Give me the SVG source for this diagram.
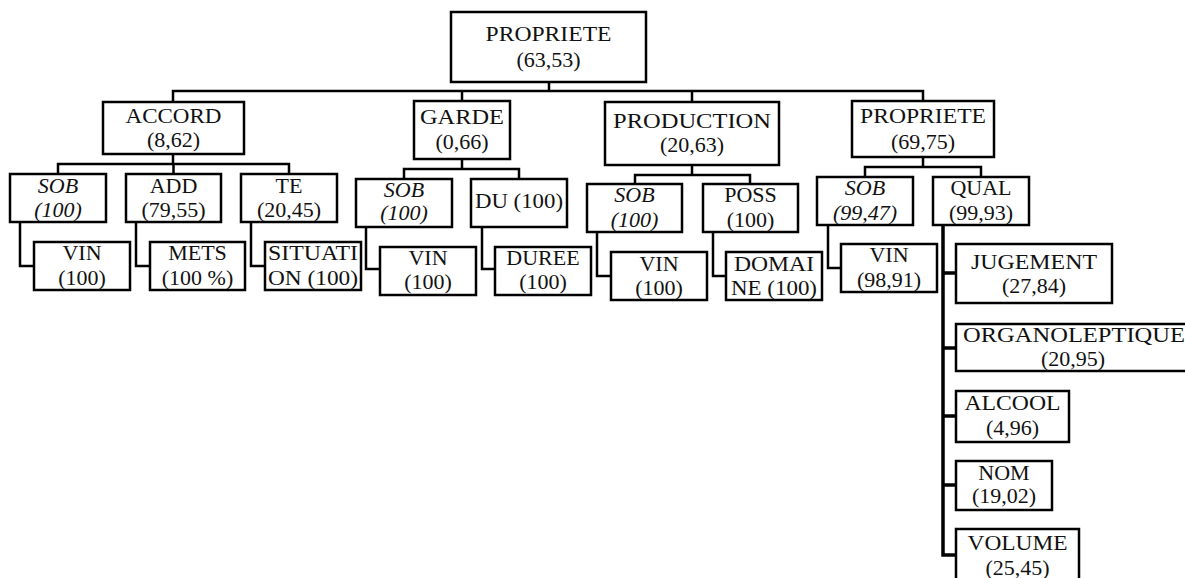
<svg xmlns="http://www.w3.org/2000/svg" width="1185" height="578" viewBox="0 0 1185 578">
<style>
rect{fill:#fff;stroke:#000;stroke-width:2.5}
text{font-family:"Liberation Serif","Times New Roman",serif;font-size:22px;fill:#111;text-anchor:middle}
.i{font-style:italic}
#connectors path{fill:none;stroke:#000;stroke-width:2.5}
#connectors .thick{stroke-width:3.5}
</style>
<rect x="0" y="0" width="1185" height="578" style="fill:#fff;stroke:none"/>
<g id="connectors">
<path d="M549,82V91M173,102V91H923V101M462,91V101M692,91V102"/>
<path d="M173,154V164M58,174V164H289V174M173.5,164V174"/>
<path d="M20,222V266H34M136,222V266H150M251,222V266H265"/>
<path d="M462,159V169M404,179V169H519V179"/>
<path d="M366,227V269H380M482,227V269H495"/>
<path d="M692,165V175M635,184V175H750V184"/>
<path d="M597,232V276H611M713,232V276H726"/>
<path d="M923,157V167M865,177V167H981V177"/>
<path d="M828,225V268H841"/>
<path class="thick" d="M943,225V555H956M943,273H956M943,348H956M943,416H956M943,485H956"/>
</g>
<g id="root"><rect x="451" y="12" width="195" height="70"/><text x="548.5" y="41" textLength="126" lengthAdjust="spacingAndGlyphs">PROPRIETE</text><text x="548.5" y="67">(63,53)</text></g>
<g id="accord"><rect x="103" y="102" width="141" height="52"/><text x="173.5" y="123" textLength="96" lengthAdjust="spacingAndGlyphs">ACCORD</text><text x="173.5" y="147">(8,62)</text></g>
<g id="garde"><rect x="414" y="101" width="96" height="58"/><text x="462" y="124" textLength="84" lengthAdjust="spacingAndGlyphs">GARDE</text><text x="462" y="149">(0,66)</text></g>
<g id="production"><rect x="605" y="102" width="174" height="63"/><text x="692" y="128" textLength="158" lengthAdjust="spacingAndGlyphs">PRODUCTION</text><text x="692" y="152">(20,63)</text></g>
<g id="propriete2"><rect x="852" y="101" width="142" height="56"/><text x="923" y="123" textLength="126" lengthAdjust="spacingAndGlyphs">PROPRIETE</text><text x="923" y="149">(69,75)</text></g>
<g id="acc_sob"><rect x="10" y="174" width="96" height="48"/><text class="i" x="58" y="193">SOB</text><text class="i" x="58" y="217">(100)</text></g>
<g id="add"><rect x="126" y="174" width="95" height="48"/><text x="173.5" y="193">ADD</text><text x="173.5" y="217">(79,55)</text></g>
<g id="te"><rect x="241" y="174" width="96" height="48"/><text x="289" y="193">TE</text><text x="289" y="217">(20,45)</text></g>
<g id="acc_vin"><rect x="34" y="242" width="96" height="48"/><text x="82" y="260">VIN</text><text x="82" y="285">(100)</text></g>
<g id="mets"><rect x="150" y="242" width="95" height="48"/><text x="197.5" y="260">METS</text><text x="197.5" y="285">(100 %)</text></g>
<g id="situation"><rect x="265" y="242" width="96" height="48"/><text x="313" y="260" textLength="90" lengthAdjust="spacingAndGlyphs">SITUATI</text><text x="313" y="285" textLength="90" lengthAdjust="spacingAndGlyphs">ON (100)</text></g>
<g id="garde_sob"><rect x="356" y="179" width="96" height="48"/><text class="i" x="404" y="197">SOB</text><text class="i" x="404" y="220">(100)</text></g>
<g id="du"><rect x="471" y="179" width="96" height="48"/><text x="519" y="208" textLength="88" lengthAdjust="spacingAndGlyphs">DU (100)</text></g>
<g id="garde_vin"><rect x="380" y="247" width="96" height="48"/><text x="428" y="265">VIN</text><text x="428" y="289">(100)</text></g>
<g id="duree"><rect x="495" y="247" width="96" height="48"/><text x="543" y="265">DUREE</text><text x="543" y="289">(100)</text></g>
<g id="prod_sob"><rect x="587" y="184" width="95" height="48"/><text class="i" x="634.5" y="202">SOB</text><text class="i" x="634.5" y="227">(100)</text></g>
<g id="poss"><rect x="703" y="184" width="95" height="48"/><text x="750.5" y="202">POSS</text><text x="750.5" y="227">(100)</text></g>
<g id="prod_vin"><rect x="611" y="252" width="96" height="48"/><text x="659" y="271">VIN</text><text x="659" y="295">(100)</text></g>
<g id="domaine"><rect x="726" y="252" width="96" height="48"/><text x="774" y="271" textLength="80" lengthAdjust="spacingAndGlyphs">DOMAI</text><text x="774" y="295" textLength="86" lengthAdjust="spacingAndGlyphs">NE (100)</text></g>
<g id="prop_sob"><rect x="817" y="177" width="96" height="48"/><text class="i" x="865" y="195">SOB</text><text class="i" x="865" y="220">(99,47)</text></g>
<g id="qual"><rect x="933" y="177" width="96" height="48"/><text x="981" y="195">QUAL</text><text x="981" y="220">(99,93)</text></g>
<g id="prop_vin"><rect x="841" y="244" width="96" height="48"/><text x="889" y="262">VIN</text><text x="889" y="287">(98,91)</text></g>
<g id="jugement"><rect x="956" y="244" width="156" height="59"/><text x="1034" y="269" textLength="126" lengthAdjust="spacingAndGlyphs">JUGEMENT</text><text x="1034" y="293">(27,84)</text></g>
<g id="organoleptique"><rect x="956" y="324" width="240" height="47"/><text x="1074" y="342" textLength="222" lengthAdjust="spacingAndGlyphs">ORGANOLEPTIQUE</text><text x="1073" y="366">(20,95)</text></g>
<g id="alcool"><rect x="956" y="391" width="113" height="51"/><text x="1012.5" y="410" textLength="96" lengthAdjust="spacingAndGlyphs">ALCOOL</text><text x="1012.5" y="435">(4,96)</text></g>
<g id="nom"><rect x="956" y="461" width="96" height="49"/><text x="1004" y="480">NOM</text><text x="1004" y="503">(19,02)</text></g>
<g id="volume"><rect x="956" y="529" width="123" height="60"/><text x="1017.5" y="550" textLength="100" lengthAdjust="spacingAndGlyphs">VOLUME</text><text x="1017.5" y="575">(25,45)</text></g>
</svg>
